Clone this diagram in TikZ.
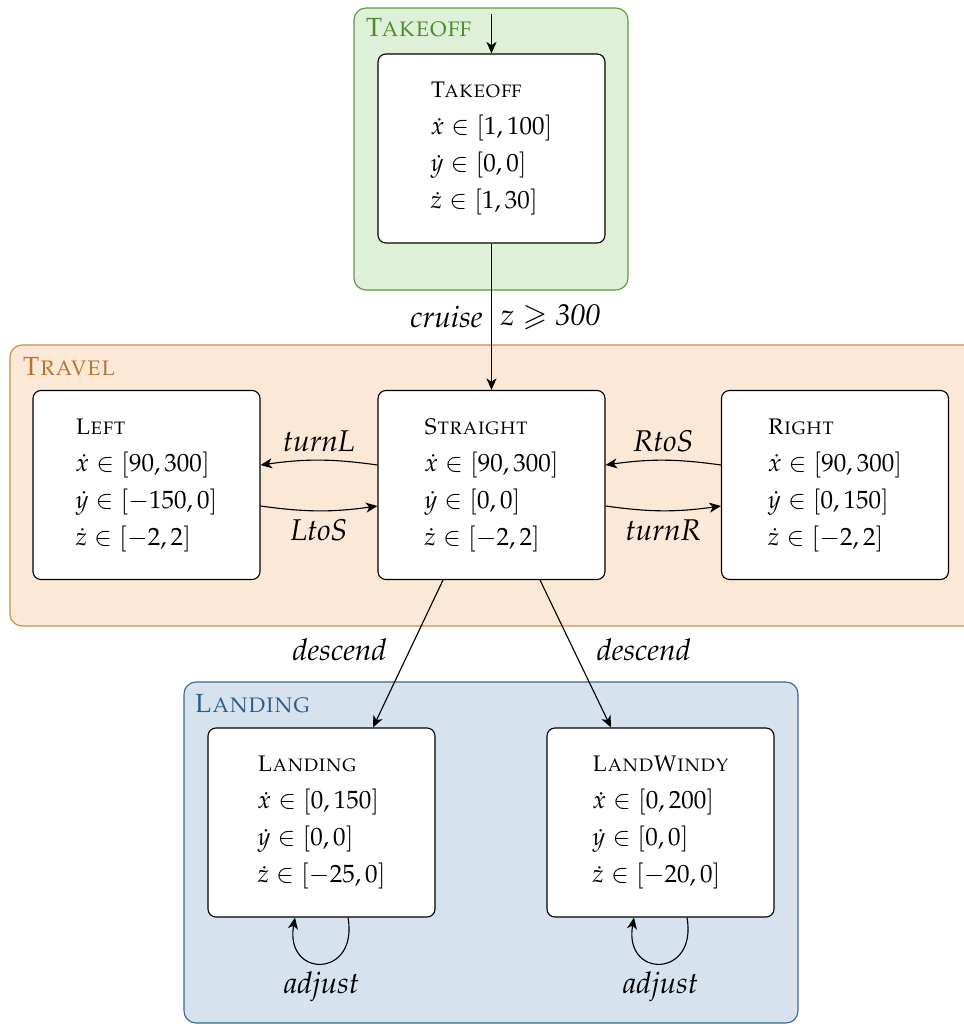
\documentclass[tikz,border=0pt]{standalone}
\usepackage{amsmath,amssymb}
\usepackage[T1]{fontenc}
\usepackage{mathpazo}
\usetikzlibrary{arrows.meta}

\definecolor{grfill}{HTML}{DFF0D8}
\definecolor{grdraw}{HTML}{5C9A3C}
\definecolor{grtext}{HTML}{4E8A2E}
\definecolor{orfill}{HTML}{FCE8D6}
\definecolor{ordraw}{HTML}{CC8A4E}
\definecolor{ortext}{HTML}{B8702E}
\definecolor{blfill}{HTML}{D6E3EF}
\definecolor{bldraw}{HTML}{3A6891}
\definecolor{bltext}{HTML}{2E5C88}

% state names in small caps
\newcommand{\statename}[1]{{\fontsize{9}{14.8}\selectfont\textsc{#1}}}

\tikzset{
  region/.style={rounded corners=4.8pt, line width=0.45pt},
  reglabel/.style={anchor=base west, inner sep=0pt,
    font=\fontsize{10.5}{12.6}\selectfont\scshape},
  statebox/.style={draw, fill=white, rounded corners=3.2pt, line width=0.45pt,
    minimum width=90.8pt, minimum height=75.6pt, inner sep=0pt, align=left,
    font=\fontsize{10}{14.8}\selectfont},
  elabel/.style={font=\large\itshape},
  edge/.style={->, line width=0.45pt},
}

\begin{document}
\begin{tikzpicture}[x=0.4pt, y=-0.4pt,
  >={Stealth[length=4.6pt, width=4pt, inset=1.3pt]}]
\useasboundingbox (0,0) rectangle (963,1026);

% mode regions
\draw[region, fill=grfill, draw=grdraw] (354,8) rectangle (628,290);
\draw[region, fill=orfill, draw=ordraw] (10,345) rectangle (1000,626);
\draw[region, fill=blfill, draw=bldraw] (184,682) rectangle (798,1023);

\node[reglabel, text=grtext] (regtakeoff) at (365,37) {Takeoff};
\node[reglabel, text=ortext] (regtravel) at (22,375) {Travel};
\node[reglabel, text=bltext] (reglanding) at (194,712) {Landing};

% states
\node[statebox] (takeoff) at (491.5,148.5)
  {\statename{Takeoff}\\ $\dot{x}\in[1,100]$\\ $\dot{y}\in[0,0]$\\ $\dot{z}\in[1,30]$};
\node[statebox] (straight) at (491.5,485)
  {\statename{Straight}\\ $\dot{x}\in[90,300]$\\ $\dot{y}\in[0,0]$\\ $\dot{z}\in[-2,2]$};
\node[statebox] (left) at (146.5,485)
  {\statename{Left}\\ $\dot{x}\in[90,300]$\\ $\dot{y}\in[-150,0]$\\ $\dot{z}\in[-2,2]$};
\node[statebox] (right) at (835,485)
  {\statename{Right}\\ $\dot{x}\in[90,300]$\\ $\dot{y}\in[0,150]$\\ $\dot{z}\in[-2,2]$};
\node[statebox] (landing) at (321.5,822.5)
  {\statename{Landing}\\ $\dot{x}\in[0,150]$\\ $\dot{y}\in[0,0]$\\ $\dot{z}\in[-25,0]$};
\node[statebox] (landwindy) at (660.5,822.5)
  {\statename{LandWindy}\\ $\dot{x}\in[0,200]$\\ $\dot{y}\in[0,0]$\\ $\dot{z}\in[-20,0]$};

% initial arrow
\coordinate (init) at (491.5,14);
\draw[edge] (init) -- (takeoff);

% transitions
\draw[edge] (takeoff) -- (straight)
  node[elabel, midway, left] {cruise}
  node[elabel, midway, right] {$z\geqslant\textit{300}$};

\draw[edge] ([yshift=8pt]straight.west) to[bend right=8]
  node[elabel, above] {turnL} ([yshift=8pt]left.east);
\draw[edge] ([yshift=-8.4pt]left.east) to[bend right=8]
  node[elabel, below] {LtoS} ([yshift=-8.4pt]straight.west);
\draw[edge] ([yshift=8pt]right.west) to[bend right=8]
  node[elabel, above] {RtoS} ([yshift=8pt]straight.east);
\draw[edge] ([yshift=-8.4pt]straight.east) to[bend right=8]
  node[elabel, below] {turnR} ([yshift=-8.4pt]right.west);

\draw[edge] ([xshift=-19.4pt]straight.south) --
  node[elabel, left=5pt, yshift=1.5pt] {descend} ([xshift=20.6pt]landing.north);
\draw[edge] ([xshift=19.4pt]straight.south) --
  node[elabel, right=5pt, yshift=1.5pt] {descend} ([xshift=-19.8pt]landwindy.north);

\draw[edge] ([xshift=10.6pt]landing.south) to[out=-80, in=-100, looseness=3]
  node[elabel, below] {adjust} ([xshift=-10.6pt]landing.south);
\draw[edge] ([xshift=10.6pt]landwindy.south) to[out=-80, in=-100, looseness=3]
  node[elabel, below] {adjust} ([xshift=-10.6pt]landwindy.south);
\end{tikzpicture}
\end{document}
